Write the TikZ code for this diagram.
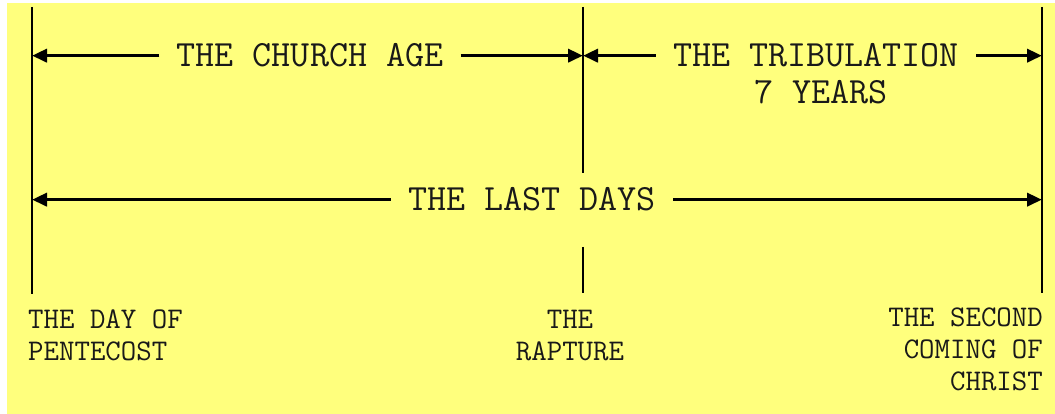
\documentclass[tikz,border=0pt]{standalone}
\usetikzlibrary{arrows.meta}
\definecolor{paper}{RGB}{255,255,125}
\definecolor{ink}{RGB}{25,25,25}

\begin{document}
\begin{tikzpicture}[x=1pt,y=-1pt,>={Triangle[length=15pt,width=13pt]}, every node/.style={text=ink}]
\tikzstyle{era}=[font=\ttfamily\fontsize{37}{40}\selectfont, inner xsep=17pt, inner ysep=0pt, anchor=base]
\tikzstyle{event}=[font=\ttfamily\fontsize{30}{32}\selectfont, inner sep=0pt]
\tikzstyle{span}=[->, line width=3.6pt, draw=black]
\tikzstyle{tick}=[line width=2.2pt, draw=black]
\useasboundingbox (0,0) rectangle (1055,414);
\fill[paper] (7,3) rectangle (1055,414);
% the three moments
\coordinate (pent) at (32,7);
\coordinate (pentend) at (32,294);
\coordinate (rapt) at (583,7);
\coordinate (raptcut) at (583,173);
\coordinate (raptresume) at (583,247);
\coordinate (raptend) at (583,293);
\coordinate (second) at (1042,7);
\coordinate (secondend) at (1042,293);
\draw[tick] (pent) -- (pentend);
\draw[tick] (rapt) -- (raptcut);
\draw[tick] (raptresume) -- (raptend);
\draw[tick] (second) -- (secondend);
% the spans between them
\node[era] (church) at (310,67) {THE CHURCH AGE};
\node[era] (trib) at (816,67) {THE TRIBULATION};
\node[era] (years) at (821,104) {7 YEARS};
\node[era] (last) at (532,211) {THE LAST DAYS};
\draw[span] (church.west) -- (church.west -| pent);
\draw[span] (church.east) -- (church.east -| rapt);
\draw[span] (trib.west) -- (trib.west -| rapt);
\draw[span] (trib.east) -- (trib.east -| second);
\draw[span] (last.west) -- (last.west -| pent);
\draw[span] (last.east) -- (last.east -| second);
% labels under the lines
\node[event, anchor=base west, align=left] (pentlabel) at (28,360) {THE DAY OF\\PENTECOST};
\node[event, anchor=base, align=center] (raptlabel) at (570,360) {THE\\RAPTURE};
\node[event, anchor=base east, align=right] (secondlabel) at (1043,390) {THE SECOND\\COMING OF\\CHRIST};
\end{tikzpicture}
\end{document}
